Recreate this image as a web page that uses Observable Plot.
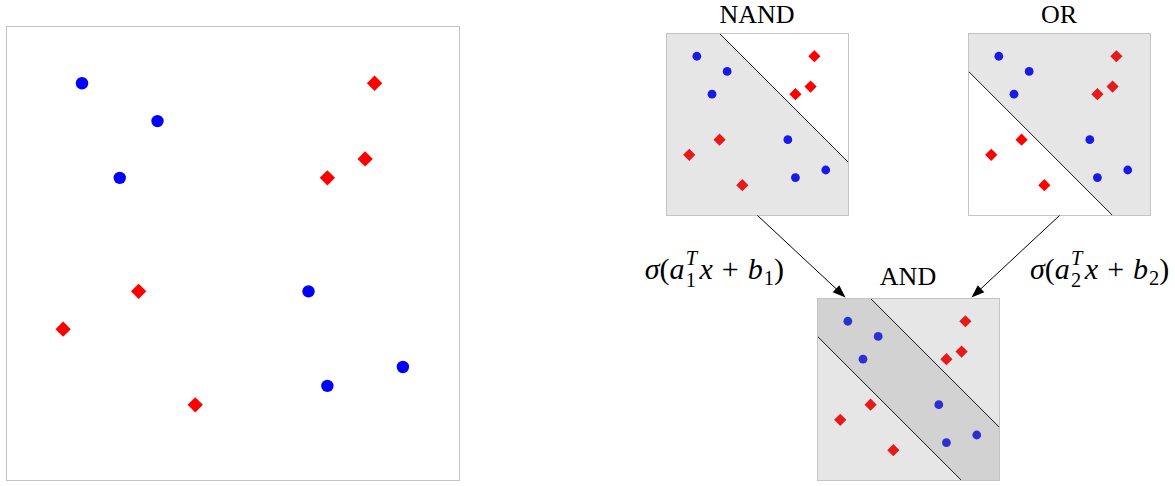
<!DOCTYPE html>
<html><head><meta charset="utf-8">
<script src="https://cdn.jsdelivr.net/npm/d3@7"></script>
<script src="https://cdn.jsdelivr.net/npm/@observablehq/plot@0.6"></script>
<style>
html,body{margin:0;padding:0;background:#fff;}
#root{position:relative;width:1175px;height:486px;overflow:hidden;font-family:"Liberation Serif",serif;color:#000;}
#root > svg{position:absolute;}
.title{position:absolute;font-size:26px;line-height:1;text-align:center;width:200px;white-space:nowrap;}
.math{position:absolute;font-size:30px;line-height:1;white-space:nowrap;}
.math i{font-style:italic;}
.ss{display:inline-block;font-size:0.68em;line-height:1.1em;vertical-align:-0.4em;margin:0 0.12em 0 0.06em;}
.sb{font-size:0.68em;vertical-align:-0.27em;line-height:0;margin-left:0.05em;}
.op{margin:0 0.3em;}
</style></head>
<body><div id="root"></div>
<script>
// ---- data ----
const blueX = [2, 4, 3, 8, 8.5, 10.5];
const blueY = [10.5, 9.5, 8, 5, 2.5, 3];
const redX = [9.75, 9.5, 8.5, 3.5, 1.5, 5];
const redY = [10.5, 8.5, 8, 5, 4, 2];
const domainMax = 12;
// gate decision functions: a·x + b > 0 is the shaded side
const gateNames = ["NAND", "OR", "AND"];
const gateA = [[-1, -1], [1, 1]];
const gateB = [15.5, -9.5];
const edgeSub = ["1", "2"];

const blue = blueX.map((x, i) => ({x, y: blueY[i]}));
const red = redX.map((x, i) => ({x, y: redY[i]}));

// ---- layout ----
const layout = {
  big: {left: 6, top: 26, w: 453, h: 454},
  NAND: {left: 666, top: 33, w: 182, h: 182},
  OR: {left: 968, top: 33, w: 182, h: 182},
  AND: {left: 817, top: 298, w: 182, h: 182}
};
const root = document.getElementById("root");

function regionMarks(k) {
  const [a0, a1] = gateA[k], b = gateB[k];
  const xs = d3.range(-2, domainMax + 2.01, 0.5);
  const bound = x => (-b - a0 * x) / a1;
  const lo = a1 > 0 ? bound : () => -50;
  const hi = a1 > 0 ? () => 50 : bound;
  return [
    Plot.areaY(xs, {x: d => d, y1: lo, y2: hi, fill: "gray", fillOpacity: 0.2, clip: true, curve: "linear"})
  ];
}
function lineMark(k) {
  const [a0, a1] = gateA[k], b = gateB[k];
  const xs = [-2, domainMax + 2];
  return Plot.line(xs, {x: d => d, y: x => (-b - a0 * x) / a1, stroke: "#1a1a1a", strokeWidth: 1, clip: true});
}

function panel(box, rc, rd, gates) {
  const m = 1;
  const svg = Plot.plot({
    width: box.w + 2 * m, height: box.h + 2 * m,
    marginTop: m, marginRight: m, marginBottom: m, marginLeft: m,
    x: {domain: [0, domainMax], axis: null},
    y: {domain: [0, domainMax], axis: null},
    marks: [
      Plot.dot(blue, {x: "x", y: "y", r: rc, fill: "#0000ff", stroke: "none", symbol: "circle"}),
      Plot.dot(red, {x: "x", y: "y", r: rd, fill: "#ff0000", stroke: "none", symbol: "diamond2"}),
      ...gates.flatMap(k => regionMarks(k)),
      ...gates.map(k => lineMark(k)),
      Plot.frame({stroke: "#c4c4c4", strokeWidth: 1})
    ]
  });
  svg.style.left = (box.left - m) + "px";
  svg.style.top = (box.top - m) + "px";
  root.appendChild(svg);
}

panel(layout.big, 6.2, 6.9, []);
panel(layout.NAND, 4.4, 5.5, [0]);
panel(layout.OR, 4.4, 5.5, [1]);
panel(layout.AND, 4.4, 5.5, [0, 1]);

// titles
gateNames.forEach(name => {
  const b = layout[name];
  const d = document.createElement("div");
  d.className = "title";
  d.textContent = name;
  d.style.left = (b.left + b.w / 2 - 100) + "px";
  d.style.top = (b.top - (name === "AND" ? 34 : 31)) + "px";
  root.appendChild(d);
});

// arrows
const inset = 28;
const arrows = [
  {x1: layout.NAND.left + layout.NAND.w / 2, y1: layout.NAND.top + layout.NAND.h,
   x2: layout.AND.left + inset, y2: layout.AND.top - 1},
  {x1: layout.OR.left + layout.OR.w / 2, y1: layout.OR.top + layout.OR.h,
   x2: layout.AND.left + layout.AND.w - inset, y2: layout.AND.top - 1}
];
function headSymbol(angle) {
  const L = 13, w = 4.8, c = Math.cos(angle), s = Math.sin(angle);
  return {draw(ctx) {
    ctx.moveTo(0, 0);
    ctx.lineTo(-L * c + w * s, -L * s - w * c);
    ctx.lineTo(-L * c - w * s, -L * s + w * c);
    ctx.closePath();
  }};
}
const ang = d => Math.atan2(d.y2 - d.y1, d.x2 - d.x1);
const overlay = Plot.plot({
  width: 1175, height: 486, margin: 0,
  x: {domain: [0, 1175], range: [0, 1175], axis: null},
  y: {domain: [0, 486], range: [0, 486], axis: null},
  marks: [
    Plot.link(arrows, {x1: "x1", y1: "y1", x2: d => d.x2 - 5 * Math.cos(ang(d)), y2: d => d.y2 - 5 * Math.sin(ang(d)), stroke: "black", strokeWidth: 1}),
    ...arrows.map(a => Plot.dot([a], {x: "x2", y: "y2", r: 1, symbol: headSymbol(ang(a)), fill: "black", stroke: "none"}))
  ]
});
overlay.style.left = "0px"; overlay.style.top = "0px"; overlay.style.pointerEvents = "none";
root.appendChild(overlay);

// edge labels
const labelPos = [{right: 1175 - 784, top: 247}, {left: 1030, top: 247}];
edgeSub.forEach((n, i) => {
  const d = document.createElement("div");
  d.className = "math";
  d.innerHTML = `<i>σ</i>(<i>a</i><span class="ss"><i>T</i><br>${n}</span><i>x</i><span class="op">+</span><i>b</i><span class="sb">${n}</span>)`;
  const p = labelPos[i];
  if (p.right != null) d.style.right = p.right + "px"; else d.style.left = p.left + "px";
  d.style.top = p.top + "px";
  root.appendChild(d);
});
</script>
</body></html>
